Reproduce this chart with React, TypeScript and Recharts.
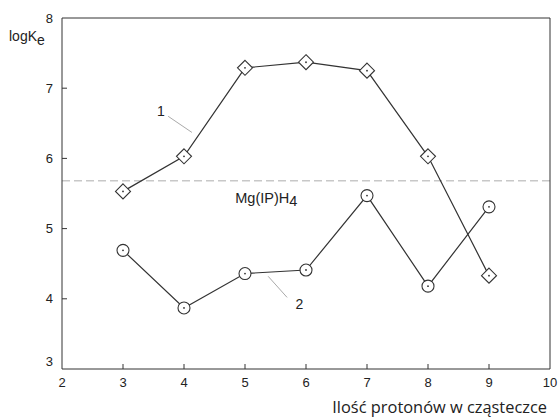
import React from 'react';
import { LineChart, Line, XAxis, YAxis, ReferenceLine, ReferenceDot } from 'recharts';

const protons = [3, 4, 5, 6, 7, 8, 9];
const series1 = [5.53, 6.03, 7.29, 7.37, 7.25, 6.03, 4.33];
const series2 = [4.69, 3.87, 4.36, 4.41, 5.47, 4.18, 5.31];
const xTicks = [2, 3, 4, 5, 6, 7, 8, 9, 10];
const yTicks = [3, 4, 5, 6, 7, 8];
const mgLevel = 5.68;

const data = protons.map((p, i) => ({ x: p, a: series1[i], b: series2[i] }));

const FONT = '"Liberation Sans", Arial, sans-serif';
const INK = '#333';

const Diamond = (props: any) => {
  const { cx, cy } = props;
  if (cx == null || cy == null) return null;
  const r = 7.5;
  return (
    <g>
      <path d={`M${cx},${cy - r} L${cx + r},${cy} L${cx},${cy + r} L${cx - r},${cy} Z`} fill="#fff" stroke={INK} strokeWidth={1.1} />
      <circle cx={cx} cy={cy} r={0.9} fill={INK} />
    </g>
  );
};

const Circ = (props: any) => {
  const { cx, cy } = props;
  if (cx == null || cy == null) return null;
  return (
    <g>
      <circle cx={cx} cy={cy} r={6} fill="#fff" stroke={INK} strokeWidth={1.1} />
      <circle cx={cx} cy={cy} r={0.9} fill={INK} />
    </g>
  );
};

const XTick = (props: any) => {
  const { x, y, payload } = props;
  const v = payload.value;
  const ay = y - 8;
  return (
    <g>
      {v !== 2 && v !== 10 && <line x1={x} y1={ay} x2={x} y2={ay - 5} stroke={INK} />}
      <text x={x} y={ay + 18} textAnchor="middle" fontFamily={FONT} fontSize={13} fill="#222">{v}</text>
    </g>
  );
};

const YTick = (props: any) => {
  const { x, y, payload } = props;
  const v = payload.value;
  const ax = x + 8;
  return (
    <g>
      {v !== 3 && v !== 8 && <line x1={ax} y1={y} x2={ax + 5} y2={y} stroke={INK} />}
      <text x={ax - 9} y={y + (v === 3 ? -8 : 0)} textAnchor="end" dominantBaseline="central" fontFamily={FONT} fontSize={13} fill="#222">{v}</text>
    </g>
  );
};

const TextShape = (txt: string, sub?: string, anchor: string = 'middle', size: number = 13) => (props: any) => {
  const { cx, cy } = props;
  return (
    <text x={cx} y={cy} textAnchor={anchor} dominantBaseline="central" fontFamily={FONT} fontSize={size} fill="#222">
      {txt}
      {sub && <tspan dy={3}>{sub}</tspan>}
    </text>
  );
};

export default function App() {
  return (
    <div style={{ position: 'absolute', left: 0, top: 0, width: 558, height: 419, background: '#fff' }}>
      <LineChart width={558} height={419} data={data} margin={{ top: 17, right: 7, bottom: 0, left: 0 }}>
        <XAxis xAxisId="b" dataKey="x" type="number" domain={[2, 10]} ticks={xTicks} tickLine={false} tick={<XTick />} axisLine={{ stroke: INK }} height={50} interval={0} />
        <XAxis xAxisId="t" orientation="top" dataKey="x" type="number" domain={[2, 10]} tick={false} tickLine={false} axisLine={{ stroke: INK }} height={1} />
        <YAxis yAxisId="l" type="number" domain={[3, 8]} ticks={yTicks} tickLine={false} tick={<YTick />} axisLine={{ stroke: INK }} width={62} interval={0} />
        <YAxis yAxisId="r" orientation="right" type="number" domain={[3, 8]} tick={false} tickLine={false} axisLine={{ stroke: INK }} width={1} />
        <ReferenceLine xAxisId="b" yAxisId="l" y={mgLevel} stroke="#c8c8c8" strokeWidth={1.5} strokeDasharray="8 4" />
        <ReferenceLine xAxisId="b" yAxisId="l" segment={[{ x: 3.74, y: 6.6 }, { x: 4.13, y: 6.37 }]} stroke="#aaa" />
        <ReferenceLine xAxisId="b" yAxisId="l" segment={[{ x: 5.38, y: 4.32 }, { x: 5.69, y: 4.02 }]} stroke="#aaa" />
        <ReferenceDot xAxisId="b" yAxisId="l" x={3.62} y={6.67} r={0} shape={TextShape('1', undefined, 'middle', 14)} />
        <ReferenceDot xAxisId="b" yAxisId="l" x={5.89} y={3.93} r={0} shape={TextShape('2', undefined, 'middle', 14)} />
        <ReferenceDot xAxisId="b" yAxisId="l" x={4.84} y={5.44} r={0} shape={TextShape('Mg(IP)H', '4', 'start', 14.5)} />
        <Line xAxisId="b" yAxisId="l" dataKey="a" stroke={INK} strokeWidth={1.2} dot={<Diamond />} isAnimationActive={false} />
        <Line xAxisId="b" yAxisId="l" dataKey="b" stroke={INK} strokeWidth={1.2} dot={<Circ />} isAnimationActive={false} />
      </LineChart>
      <div style={{ position: 'absolute', left: 9, top: 28, fontFamily: FONT, fontSize: 14, lineHeight: '16px', color: '#222', whiteSpace: 'nowrap' }}>
        logK<span style={{ fontSize: 14, position: 'relative', top: 4 }}>e</span>
      </div>
      <div style={{ position: 'absolute', right: 11, top: 395, fontFamily: '"Open Sans", sans-serif', fontSize: 16.4, lineHeight: 'normal', color: '#222', whiteSpace: 'nowrap' }}>
        Ilość protonów w cząsteczce
      </div>
    </div>
  );
}
